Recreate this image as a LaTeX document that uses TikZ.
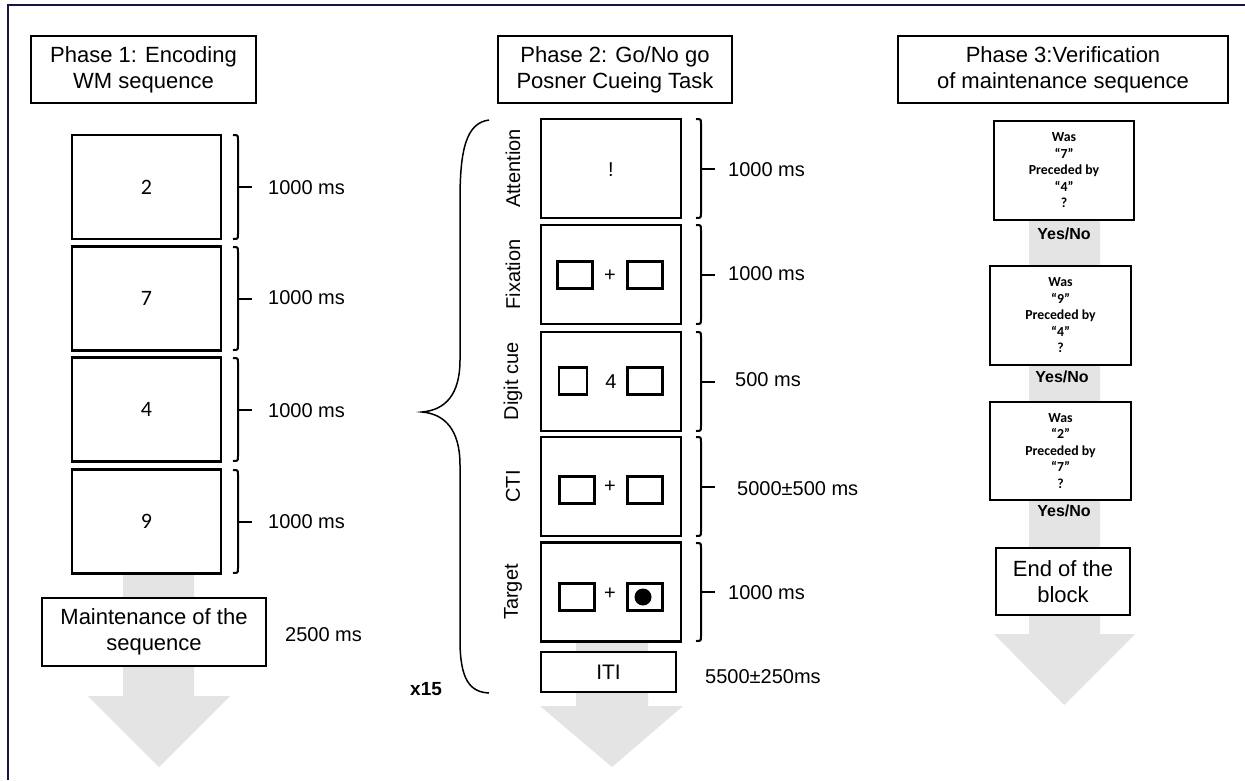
\documentclass[tikz,border=0pt]{standalone}
\usepackage{fontspec}
\setmainfont{Liberation Sans}
\newfontfamily\calfont{Carlito}
\definecolor{framecol}{HTML}{1B1442}
\definecolor{flowgray}{HTML}{E4E4E4}
\newcommand\timebrace[3]{%
  \draw[line width=2pt] (#1-5,#2) .. controls (#1,#2) .. (#1,#2+5) -- (#1,#3-5) .. controls (#1,#3) .. (#1-5,#3);
  \draw[line width=2pt] (#1,{(#2+#3)/2}) -- (#1+14,{(#2+#3)/2});
}
\begin{document}
\begin{tikzpicture}[x=1pt,y=-1pt,
  title/.style={draw, line width=1.4pt, fill=white, align=center, inner sep=0pt,
    font=\fontsize{22}{26}\selectfont},
  screen/.style={draw, line width=2.8pt, fill=white, inner sep=0pt},
  minibox/.style={draw, line width=2.2pt, inner sep=0pt, minimum width=35pt, minimum height=27pt},
  tlabel/.style={anchor=west, inner sep=0pt, font=\fontsize{20}{24}\selectfont},
  vlabel/.style={rotate=90, inner sep=0pt, font=\fontsize{20}{24}\selectfont},
  digit/.style={font=\calfont\fontsize{22}{26}\selectfont},
  sym/.style={font=\fontsize{20}{24}\selectfont, inner sep=0pt},
  question/.style={screen, align=center, font=\calfont\bfseries\fontsize{13.8}{16.5}\selectfont, minimum width=141pt, minimum height=99pt},
  yesno/.style={font=\bfseries\fontsize{16}{19}\selectfont, inner sep=0pt}]
\useasboundingbox (0,0) rectangle (1245,780);
\fill[white] (0,0) rectangle (1245,780);
% frame
\draw[draw=framecol, line width=2.5pt] (8,780) -- (8,5) -- (1245,5);

% gray flow arrows
\fill[flowgray] (123,560) -- (194,560) -- (194,696) -- (230,696) -- (159,767) -- (88,696) -- (123,696) -- cycle;
\fill[flowgray] (576,630) -- (648,630) -- (648,706) -- (683,706) -- (612,767) -- (540,706) -- (576,706) -- cycle;
\fill[flowgray] (1029,210) -- (1100,210) -- (1100,634) -- (1135,634) -- (1064,705) -- (994,634) -- (1029,634) -- cycle;

% ---------- Phase 1 ----------
\node[title, minimum width=225pt, minimum height=67pt] (t1) at (143.5,69.5) {Phase 1: Encoding\\WM sequence};
\node[screen, minimum width=149pt, minimum height=104pt, digit] (a1) at (146.5,187) {2};
\node[screen, minimum width=149pt, minimum height=104pt, digit] (a2) at (146.5,298.5) {7};
\node[screen, minimum width=149pt, minimum height=104pt, digit] (a3) at (146.5,409.5) {4};
\node[screen, minimum width=149pt, minimum height=104pt, digit] (a4) at (146.5,521.5) {9};
\timebrace{238}{135}{239}
\timebrace{238}{247}{350}
\timebrace{238}{358}{461}
\timebrace{238}{470}{573}
\node[tlabel] (a1t) at (268,188) {1000 ms};
\node[tlabel] (a2t) at (268,298) {1000 ms};
\node[tlabel] (a3t) at (268,411) {1000 ms};
\node[tlabel] (a4t) at (268,522) {1000 ms};
\node[title, minimum width=224pt, minimum height=68pt] (maint) at (154,632) {Maintenance of the\\sequence};
\node[tlabel] (maintt) at (285,635) {2500 ms};

% ---------- Phase 2 ----------
\node[title, minimum width=234pt, minimum height=67pt] (t2) at (615,69.5) {Phase 2: Go/No go\\Posner Cueing Task};
\node[screen, minimum width=140pt, minimum height=99pt] (b1) at (611,168.5) {};
\node[screen, minimum width=140pt, minimum height=99pt] (b2) at (611,274.5) {};
\node[screen, minimum width=140pt, minimum height=99pt] (b3) at (611,381.5) {};
\node[screen, minimum width=140pt, minimum height=99pt] (b4) at (611,486.5) {};
\node[screen, minimum width=140pt, minimum height=99pt] (b5) at (611,592) {};
\node[sym] (b1s) at (611,170) {!};
% fixation
\node[minibox] (b2l) at (575,275) {};
\node[sym] (b2s) at (610,276) {+};
\node[minibox] (b2r) at (645,275) {};
% digit cue
\node[minibox, minimum width=28pt] (b3l) at (573,381) {};
\node[sym] (b3s) at (611,382) {4};
\node[minibox] (b3r) at (645,381) {};
% CTI
\node[minibox] (b4l) at (577,490) {};
\node[sym] (b4s) at (610,487) {+};
\node[minibox] (b4r) at (645,490) {};
% target
\node[minibox] (b5l) at (577,597) {};
\node[sym] (b5s) at (610,594) {+};
\node[minibox] (b5r) at (645,597) {};
\fill (643,597) circle (8.5);
\node[vlabel] (b1v) at (513,168.5) {Attention};
\node[vlabel] (b2v) at (513,274.5) {Fixation};
\node[vlabel] (b3v) at (513,381.5) {Digit cue};
\node[vlabel] (b4v) at (513,486.5) {CTI};
\node[vlabel] (b5v) at (513,592) {Target};
\timebrace{701}{119}{218}
\timebrace{701}{225}{324}
\timebrace{701}{332}{431}
\timebrace{701}{437}{536}
\timebrace{701}{543}{641}
\node[tlabel] (b1t) at (728,170) {1000 ms};
\node[tlabel] (b2t) at (728,274) {1000 ms};
\node[tlabel] (b3t) at (735,380) {500 ms};
\node[tlabel] (b4t) at (737,489) {5000±500 ms};
\node[tlabel] (b5t) at (728,593) {1000 ms};
\node[title, minimum width=135pt, minimum height=40pt, font=\fontsize{21}{25}\selectfont] (iti) at (608.5,672) {ITI};
\node[tlabel] (itit) at (705,677) {5500±250ms};
% repeat brace
\draw[line width=1.5pt] (489,120) .. controls (466,123) and (460,150) .. (460,200)
  -- (460,360) .. controls (460,395) and (445,410) .. (422,412)
  .. controls (445,414) and (460,430) .. (460,465)
  -- (460,640) .. controls (460,680) and (470,692) .. (489,693);
\node[anchor=west, inner sep=0pt, font=\bfseries\fontsize{19}{23}\selectfont] (rep) at (410,689) {x15};

% ---------- Phase 3 ----------
\node[title, minimum width=330pt, minimum height=67pt] (t3) at (1063,69.5) {Phase 3:Verification\\of maintenance sequence};
\node[question, minimum width=140pt] (q1) at (1064,170.5) {Was\\“7”\\Preceded by\\“4”\\?};
\node[yesno] (y1) at (1064,234) {Yes/No};
\node[question] (q2) at (1060.5,315.5) {Was\\“9”\\Preceded by\\“4”\\?};
\node[yesno] (y2) at (1062,377) {Yes/No};
\node[question, minimum height=98pt] (q3) at (1060.5,451) {Was\\“2”\\Preceded by\\“7”\\?};
\node[yesno] (y3) at (1064,511) {Yes/No};
\node[title, minimum width=134pt, minimum height=67pt] (endb) at (1063,581.5) {End of the\\block};
\end{tikzpicture}
\end{document}
